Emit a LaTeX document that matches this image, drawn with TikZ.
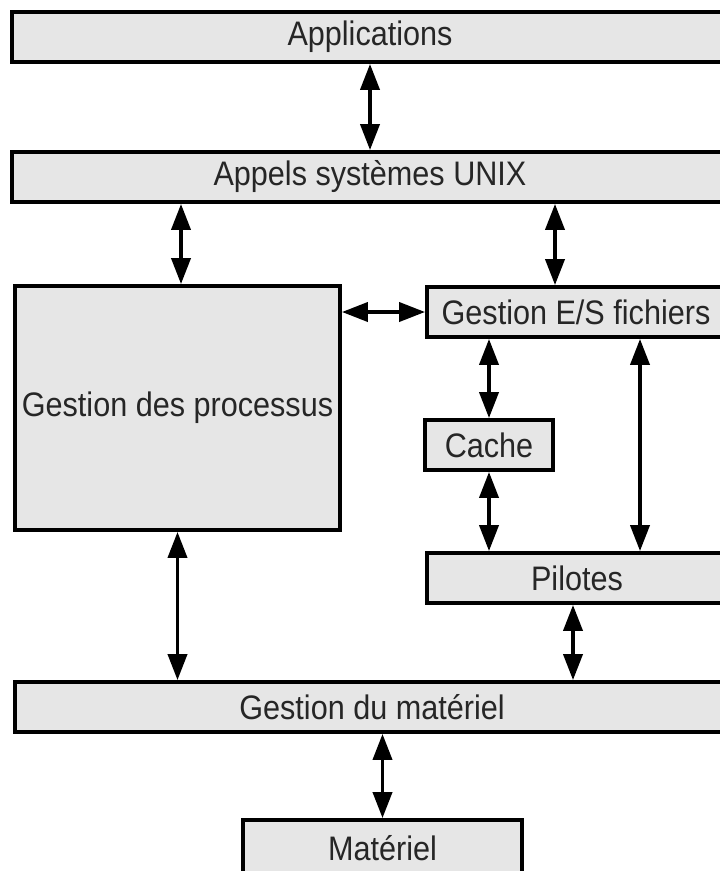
\documentclass[tikz,border=0pt]{standalone}
\usepackage{fontspec}
\setmainfont{Liberation Sans}[FakeStretch=0.9]
\usetikzlibrary{arrows.meta}
\definecolor{boxfill}{HTML}{E6E6E6}
\begin{document}
\begin{tikzpicture}[x=1pt,y=-1pt,
  layer/.style={draw=black,line width=3.8pt,fill=boxfill,rectangle,inner sep=0pt,
    text=black!85,font=\fontsize{34}{36}\selectfont},
  bi/.style={line width=3.8pt,{Triangle[length=26pt,width=19pt]}-{Triangle[length=26pt,width=19pt]}}]
\useasboundingbox (0,0) rectangle (720,871);
\clip (0,0) rectangle (720,871);
\node[layer,minimum width=716pt,minimum height=50pt] (app) at (370,37) {Applications};
\node[layer,minimum width=716pt,minimum height=50pt] (unix) at (370,177) {Appels systèmes UNIX};
\node[layer,minimum width=325pt,minimum height=244pt] (proc) at (177.5,408) {Gestion des processus};
\node[layer,minimum width=298pt,minimum height=50pt] (es) at (576,312) {Gestion E/S fichiers};
\node[layer,minimum width=128pt,minimum height=50pt] (cache) at (489,445) {Cache};
\node[layer,minimum width=300pt,minimum height=50pt] (pil) at (577,578) {Pilotes};
\node[layer,minimum width=714pt,minimum height=50pt] (gm) at (372,707) {Gestion du matériel};
\node[layer,minimum width=279pt,minimum height=56pt] (mat) at (382.5,848) {Matériel};
\coordinate (xa) at (181,0);
\coordinate (xb) at (555,0);
\coordinate (xc) at (640,0);
\coordinate (xd) at (573,0);
\draw[bi] (app.south) -- (unix.north);
\draw[bi] (unix.south -| xa) -- (proc.north -| xa);
\draw[bi] (unix.south -| xb) -- (es.north -| xb);
\draw[bi] (es.west -| proc.east) -- (es.west);
\draw[bi] (es.south -| cache.north) -- (cache.north);
\draw[bi] (es.south -| xc) -- (pil.north -| xc);
\draw[bi] (cache.south) -- (cache.south |- pil.north);
\draw[bi] (pil.south -| xd) -- (gm.north -| xd);
\draw[bi] (proc.south) -- (proc.south |- gm.north);
\draw[bi] (gm.south -| mat.north) -- (mat.north);
\end{tikzpicture}
\end{document}
